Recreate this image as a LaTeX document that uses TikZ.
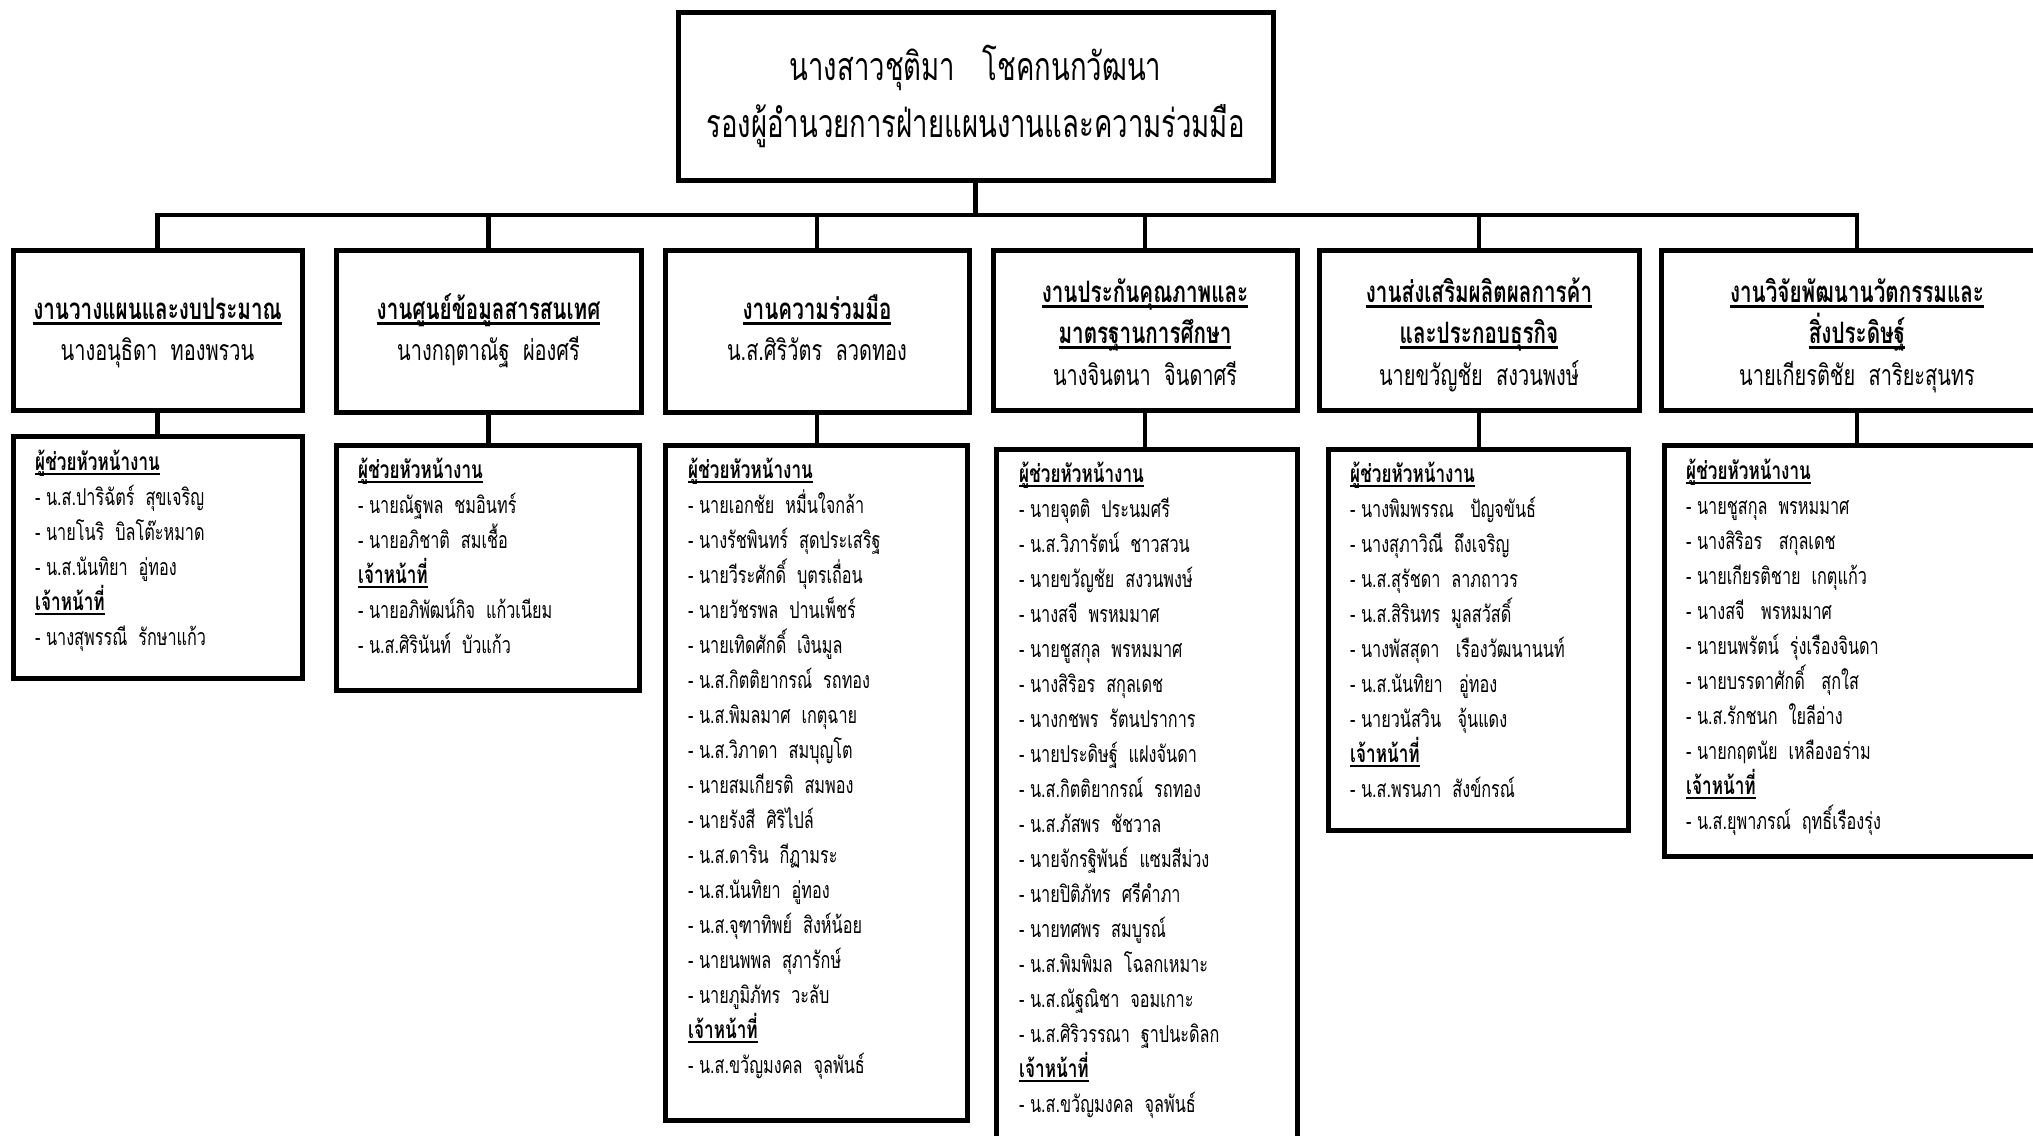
\documentclass[tikz,border=0pt]{standalone}
\usepackage{fontspec}
\setmainfont[Script=Thai, FakeStretch=0.7]{Loma}
\newcommand\ulin[3]{\setbox0=\hbox{#3}\leavevmode\rlap{\rule[-#1]{\wd0}{#2}}\box0}
\newcommand\hd[1]{\ulin{5pt}{2.2pt}{\fontsize{24.5}{28}\selectfont\bfseries #1}}
\newcommand\hdt[1]{\ulin{6pt}{2.6pt}{\fontsize{29.5}{34}\selectfont\bfseries #1}}
\tikzset{
  x=1pt, y=-1pt,
  box/.style={draw, line width=5pt, rectangle, inner sep=0pt},
  conn/.style={line width=4.5pt},
  li/.style={anchor=base west, inner sep=0pt, font=\fontsize{23.2}{27}\selectfont},
  tt/.style={anchor=base, inner sep=0pt, font=\fontsize{28.5}{33}\selectfont},
  topt/.style={anchor=base, inner sep=0pt, font=\fontsize{39.3}{45}\selectfont},
}
\newcommand\plist[4]{%
  \foreach \t [count=\i from 0] in {#4} {\node[li] (#1-\i) at (#2, #3+\i*35) {\t};}}
\begin{document}
\begin{tikzpicture}
\useasboundingbox (0,0) rectangle (2033,1135);
% top
\node[box, minimum width=595, minimum height=168] (top) at (975.5,96) {};
\node[topt] (top-1) at (975.5,80) {นางสาวชุติมา~~~โชคกนกวัฒนา};
\node[topt] (top-2) at (975.5,137) {รองผู้อำนวยการฝ่ายแผนงานและความร่วมมือ};
% level 2
\node[box, minimum width=289, minimum height=160] (b1) at (157.5,330) {};
\node[box, minimum width=305, minimum height=162] (b2) at (488.5,331) {};
\node[box, minimum width=304, minimum height=162] (b3) at (817,331) {};
\node[box, minimum width=304, minimum height=160] (b4) at (1145,330) {};
\node[box, minimum width=320, minimum height=160] (b5) at (1479,330) {};
\node[box, minimum width=392, minimum height=160] (b6) at (1857,330) {};
\node[tt] (b1-1) at (157.5,319) {\hdt{งานวางแผนและงบประมาณ}};
\node[tt] (b1-2) at (157.5,360) {นางอนุธิดา~~ทองพรวน};
\node[tt] (b2-1) at (488.5,319) {\hdt{งานศูนย์ข้อมูลสารสนเทศ}};
\node[tt] (b2-2) at (488.5,360) {นางกฤตาณัฐ~~ผ่องศรี};
\node[tt] (b3-1) at (817,319) {\hdt{งานความร่วมมือ}};
\node[tt] (b3-2) at (817,360) {น.ส.ศิริวัตร~~ลวดทอง};
\node[tt] (b4-1) at (1145,302) {\hdt{งานประกันคุณภาพและ}};
\node[tt] (b4-2) at (1145,343) {\hdt{มาตรฐานการศึกษา}};
\node[tt] (b4-3) at (1145,385) {นางจินตนา~~จินดาศรี};
\node[tt] (b5-1) at (1479,302) {\hdt{งานส่งเสริมผลิตผลการค้า}};
\node[tt] (b5-2) at (1479,343) {\hdt{และประกอบธุรกิจ}};
\node[tt] (b5-3) at (1479,385) {นายขวัญชัย~~สงวนพงษ์};
\node[tt] (b6-1) at (1857,302) {\hdt{งานวิจัยพัฒนานวัตกรรมและ}};
\node[tt] (b6-2) at (1857,343) {\hdt{สิ่งประดิษฐ์}};
\node[tt] (b6-3) at (1857,385) {นายเกียรติชัย~~สาริยะสุนทร};
% level 3
\node[box, minimum width=289, minimum height=242] (l1) at (157.5,557) {};
\node[box, minimum width=303, minimum height=245] (l2) at (487.5,567.5) {};
\node[box, minimum width=302, minimum height=675] (l3) at (816,782.5) {};
\node[box, minimum width=301, minimum height=701] (l4) at (1146.5,799.5) {};
\node[box, minimum width=300, minimum height=381] (l5) at (1478,639.5) {};
\node[box, minimum width=386, minimum height=411] (l6) at (1857,650.5) {};
\plist{t1}{35}{470}{\hd{ผู้ช่วยหัวหน้างาน}, - น.ส.ปาริฉัตร์~~สุขเจริญ, - นายโนริ~~บิลโต๊ะหมาด, - น.ส.นันทิยา~~อู่ทอง, \hd{เจ้าหน้าที่}, - นางสุพรรณี~~รักษาแก้ว}
\plist{t2}{358}{478}{\hd{ผู้ช่วยหัวหน้างาน}, - นายณัฐพล~~ชมอินทร์, - นายอภิชาติ~~สมเชื้อ, \hd{เจ้าหน้าที่}, - นายอภิพัฒน์กิจ~~แก้วเนียม, - น.ส.ศิรินันท์~~บัวแก้ว}
\plist{t3}{688}{478}{\hd{ผู้ช่วยหัวหน้างาน}, - นายเอกชัย~~หมื่นใจกล้า, - นางรัชพินทร์~~สุดประเสริฐ, - นายวีระศักดิ์~~บุตรเถื่อน, - นายวัชรพล~~ปานเพ็ชร์, - นายเทิดศักดิ์~~เงินมูล, - น.ส.กิตติยากรณ์~~รถทอง, - น.ส.พิมลมาศ~~เกตุฉาย, - น.ส.วิภาดา~~สมบุญโต, - นายสมเกียรติ~~สมพอง, - นายรังสี~~ศิริไปล์, - น.ส.ดาริน~~กีฏามระ, - น.ส.นันทิยา~~อู่ทอง, - น.ส.จุฑาทิพย์~~สิงห์น้อย, - นายนพพล~~สุภารักษ์, - นายภูมิภัทร~~วะลับ, \hd{เจ้าหน้าที่}, - น.ส.ขวัญมงคล~~จุลพันธ์}
\plist{t4}{1019}{482}{\hd{ผู้ช่วยหัวหน้างาน}, - นายจุตติ~~ประนมศรี, - น.ส.วิภารัตน์~~ชาวสวน, - นายขวัญชัย~~สงวนพงษ์, - นางสจี~~พรหมมาศ, - นายชูสกุล~~พรหมมาศ, - นางสิริอร~~สกุลเดช, - นางกชพร~~รัตนปราการ, - นายประดิษฐ์~~แฝงจันดา, - น.ส.กิตติยากรณ์~~รถทอง, - น.ส.ภัสพร~~ชัชวาล, - นายจักรฐิพันธ์~~แซมสีม่วง, - นายปิติภัทร~~ศรีคำภา, - นายทศพร~~สมบูรณ์, - น.ส.พิมพิมล~~โฉลกเหมาะ, - น.ส.ณัฐณิชา~~จอมเกาะ, - น.ส.ศิริวรรณา~~ฐาปนะดิลก, \hd{เจ้าหน้าที่}, - น.ส.ขวัญมงคล~~จุลพันธ์}
\plist{t5}{1350}{482}{\hd{ผู้ช่วยหัวหน้างาน}, - นางพิมพรรณ~~~ปัญจขันธ์, - นางสุภาวิณี~~ถึงเจริญ, - น.ส.สุรัชดา~~ลาภถาวร, - น.ส.สิรินทร~~มูลสวัสดิ์, - นางพัสสุดา~~~เรืองวัฒนานนท์, - น.ส.นันทิยา~~~อู่ทอง, - นายวนัสวิน~~~จุ้นแดง, \hd{เจ้าหน้าที่}, - น.ส.พรนภา~~สังข์กรณ์}
\plist{t6}{1686}{479}{\hd{ผู้ช่วยหัวหน้างาน}, - นายชูสกุล~~พรหมมาศ, - นางสิริอร~~~สกุลเดช, - นายเกียรติชาย~~เกตุแก้ว, - นางสจี~~~พรหมมาศ, - นายนพรัตน์~~รุ่งเรืองจินดา, - นายบรรดาศักดิ์~~~สุกใส, - น.ส.รักชนก~~ใยลีอ่าง, - นายกฤตนัย~~เหลืองอร่าม, \hd{เจ้าหน้าที่}, - น.ส.ยุพาภรณ์~~ฤทธิ์เรืองรุ่ง}
% connectors
\coordinate (bus) at (975.5,215);
\draw[conn] (top.south) -- (bus);
\draw[conn, line cap=rect] (b1.north) -- (b1.north |- bus) -- (b6.north |- bus) -- (b6.north);
\foreach \n in {b2,b3,b4,b5} {\draw[conn] (\n.north) -- (\n.north |- bus);}
\foreach \k in {1,...,6} {\draw[conn] (b\k.south) -- (b\k.south |- l\k.north);}
\end{tikzpicture}
\end{document}
